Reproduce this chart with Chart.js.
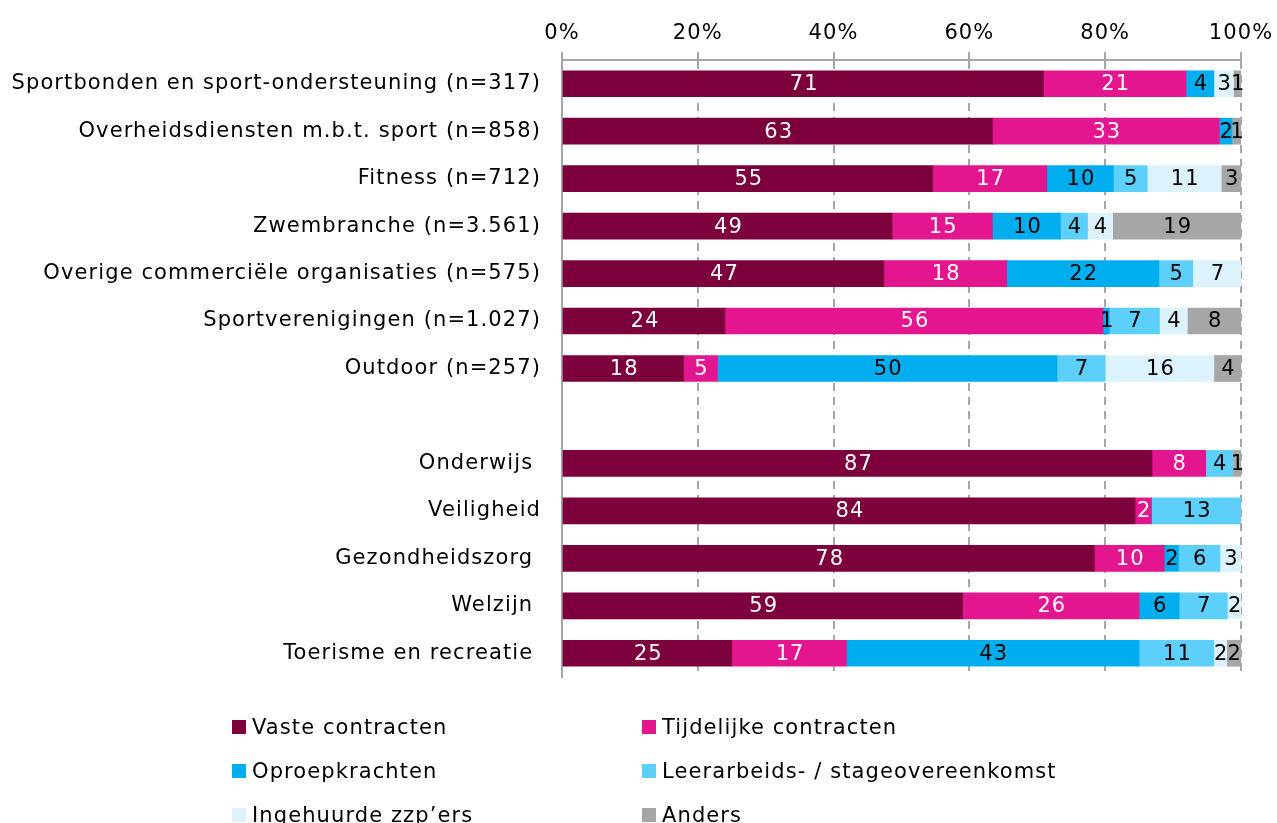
<!DOCTYPE html>
<html>
<head>
<meta charset="utf-8">
<script src="https://cdn.jsdelivr.net/npm/chart.js@4/dist/chart.umd.min.js"></script>
<style>
  html,body{margin:0;padding:0;background:#fff;overflow:hidden;}
  #wrap{position:relative;width:1277px;height:823px;}
  #legend{position:absolute;left:232px;top:715px;display:grid;grid-template-columns:410px 420px;row-gap:20px;
    font-family:"DejaVu Sans",sans-serif;font-size:21px;letter-spacing:1.1px;color:#000;}
  .li{display:flex;align-items:center;height:24px;white-space:nowrap;}
  .sw{width:14px;height:14px;margin-right:6px;flex:none;}
</style>
</head>
<body>
<div id="wrap">
  <canvas id="c" width="1277" height="823"></canvas>
  <div id="legend"></div>
</div>
<script>
const categories = [
  'Sportbonden en sport-ondersteuning (n=317)',
  'Overheidsdiensten m.b.t. sport (n=858)',
  'Fitness (n=712)',
  'Zwembranche (n=3.561)',
  'Overige commerciële organisaties (n=575)',
  'Sportverenigingen (n=1.027)',
  'Outdoor (n=257)',
  '',
  'Onderwijs ',
  'Veiligheid',
  'Gezondheidszorg ',
  'Welzijn ',
  'Toerisme en recreatie '
];
const seriesNames = ['Vaste contracten','Tijdelijke contracten','Oproepkrachten','Leerarbeids- / stageovereenkomst','Ingehuurde zzp\u2019ers','Anders'];
const seriesColors = ['#7b003c','#e3168f','#00aeef','#5ccffa','#dcf3fd','#a6a6a6'];
const vaste     = [70.9, 63.4, 54.6, 48.6, 47.4, 24.0, 17.9, null, 86.9, 84.4, 78.4, 59.0, 25.0];
const tijdelijk = [21.0, 33.4, 16.8, 14.8, 18.1, 55.7,  5.0, null,  7.9,  2.4, 10.3, 26.0, 16.9];
const oproep    = [ 4.1,  1.9,  9.8, 10.0, 22.4,  0.9, 50.0, null,  0,    0,    2.1,  5.9, 43.1];
const leer      = [ 0,    0,    5.0,  4.0,  5.0,  7.4,  7.1, null,  4.0, 13.2,  6.1,  7.1, 11.0];
const zzp       = [ 2.9,  0,   10.9,  3.7,  7.1,  4.1, 16.0, null,  0,    0,    3.1,  2.0,  1.9];
const anders    = [ 1.1,  1.3,  2.9, 18.9,  0,    7.9,  4.0, null,  1.2,  0,    0,    0,    2.1];
const xTicks = [0, 20, 40, 60, 80, 100];

const FONT = '"DejaVu Sans", sans-serif';
const allSeries = [vaste, tijdelijk, oproep, leer, zzp, anders];

// wider tracking like the original
const spacing = {
  id: 'spacing',
  beforeDraw(chart) { chart.ctx.letterSpacing = '1.1px'; }
};

// value labels in the middle of each segment
const valueLabels = {
  id: 'valueLabels',
  afterDatasetsDraw(chart) {
    const ctx = chart.ctx;
    ctx.save();
    ctx.font = '21px ' + FONT;
    ctx.textAlign = 'center';
    ctx.textBaseline = 'middle';
    chart.data.datasets.forEach((ds, i) => {
      const meta = chart.getDatasetMeta(i);
      meta.data.forEach((bar, j) => {
        const v = ds.data[j];
        if (v == null) return;
        const r = Math.round(v);
        if (!r) return;
        const p = bar.getProps(['x','y','base'], true);
        ctx.fillStyle = i < 2 ? '#fff' : '#000';
        ctx.fillText(String(r), (p.x + p.base) / 2 + 1, p.y + 1);
      });
    });
    ctx.restore();
  }
};

const chart = new Chart(document.getElementById('c').getContext('2d'), {
  type: 'bar',
  data: {
    labels: categories,
    datasets: allSeries.map((d, i) => ({
      label: seriesNames[i], data: d, backgroundColor: seriesColors[i],
      barThickness: 26, borderWidth: 0
    }))
  },
  options: {
    indexAxis: 'y', responsive: false, animation: false,
    layout: { padding: { left: 0, right: 35, top: 0, bottom: 146 } },
    plugins: { legend: { display: false }, tooltip: { enabled: false } },
    scales: {
      x: {
        position: 'top', stacked: true, min: 0, max: 100,
        afterFit(s) { s.height = 60; },
        afterBuildTicks(s) { s.ticks = xTicks.map(v => ({ value: v })); },
        ticks: { callback: v => v + '%', color: '#000', font: { family: FONT, size: 21 }, padding: 6, maxRotation: 0 },
        grid: { color: '#a6a6a6', lineWidth: 2, tickLength: 8, tickColor: '#a6a6a6', tickWidth: 2 },
        border: { display: true, color: '#a6a6a6', width: 2, dash: [8, 6] }
      },
      y: {
        stacked: true,
        afterFit(s) { s.width = 562; },
        ticks: { color: '#000', font: { family: FONT, size: 21 }, padding: 21, autoSkip: false },
        grid: { display: false, drawTicks: false },
        border: { display: true, color: '#a6a6a6', width: 2 }
      }
    }
  },
  plugins: [spacing, valueLabels]
});

const legendEl = document.getElementById('legend');
seriesNames.forEach((n, i) => {
  const d = document.createElement('div');
  d.className = 'li';
  d.innerHTML = '<span class="sw" style="background:' + seriesColors[i] + '"></span><span>' + n + '</span>';
  legendEl.appendChild(d);
});
</script>
</body>
</html>
